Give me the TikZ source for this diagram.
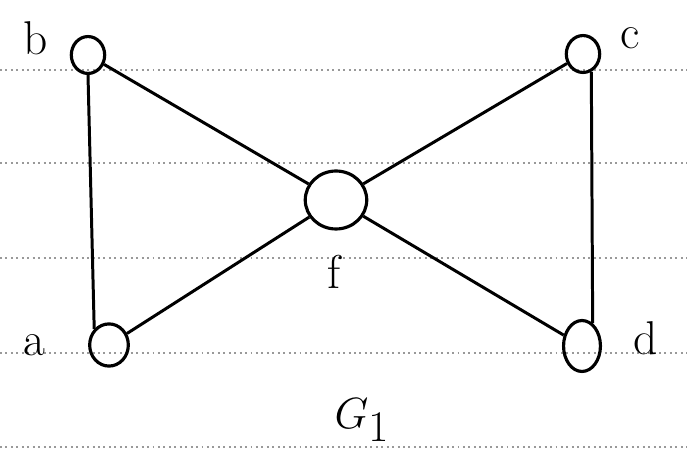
\documentclass[tikz,border=0pt]{standalone}
\usepackage{tikz}
\usetikzlibrary{shapes.geometric}

\begin{document}
\begin{tikzpicture}[
        x=0.02cm, y=-0.02cm,
        vertex/.style={draw, ellipse, line width=1.8pt, inner sep=0pt},
        edge/.style={line width=1.7pt},
        ruling/.style={gray!80, line width=1.1pt, dotted},
        lbl/.style={font=\fontsize{27}{29}\selectfont}
    ]
    \useasboundingbox (0,0) rectangle (687,465);
    % ruled paper
    \foreach \yy in {70,163,258,353,447}
        \draw[ruling] (0,\yy) -- (687,\yy);
    \node[vertex, minimum width=19pt, minimum height=21pt] (b) at (88,55) {};
    \node[vertex, minimum width=19pt, minimum height=21pt] (c) at (583,54) {};
    \node[vertex, minimum width=35pt, minimum height=33pt] (f) at (336,200) {};
    \node[vertex, minimum width=22pt, minimum height=24pt] (a) at (109,345) {};
    \node[vertex, minimum width=21pt, minimum height=29pt] (d) at (582,346) {};
    \node[lbl] (lb) at (36,38) {b};
    \node[lbl] (lc) at (630,38) {c};
    \node[lbl] (la) at (34,345) {a};
    \node[lbl] (ld) at (646,338) {d};
    \node[lbl] (lf) at (334,272) {f};
    \node[font=\fontsize{46}{48}\selectfont] (g) at (362,420) {$G_1$};
    \draw[edge] (b.south) -- (a.north west);
    \draw[edge] (c.-65) -- (d.65);
    \draw[edge] (b) -- (f);
    \draw[edge] (c) -- (f);
    \draw[edge] (a) -- (f);
    \draw[edge] (d) -- (f);
\end{tikzpicture}
\end{document}
